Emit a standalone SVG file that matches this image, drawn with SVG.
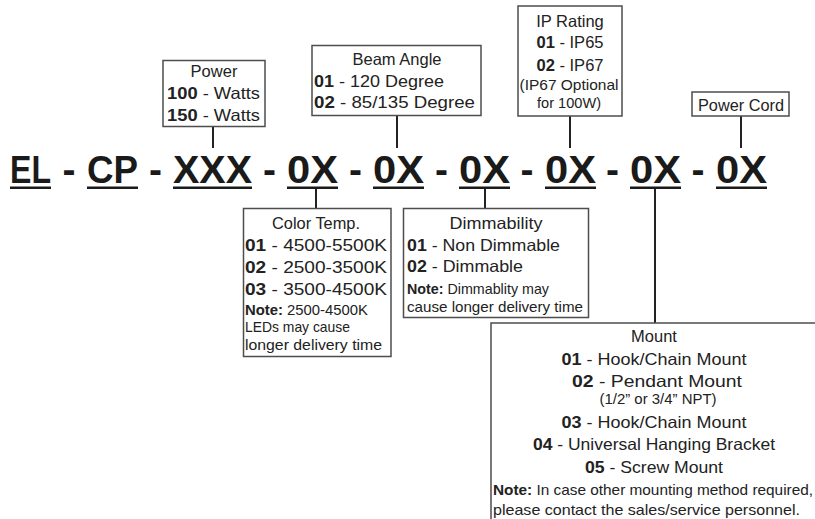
<svg xmlns="http://www.w3.org/2000/svg" width="815" height="519" viewBox="0 0 815 519">
<style>
.t{font-family:"Liberation Sans",Arial,sans-serif;font-size:16.5px;fill:#222}
.s{font-size:14.5px}
.m{text-anchor:middle}
.b{font-weight:bold}
.code{font-family:"Liberation Sans",Arial,sans-serif;font-weight:bold;font-size:39px;fill:#1a1a1a}
.box{fill:#fff;stroke:#4d4d4d;stroke-width:1.5}
.ul{fill:#1a1a1a}
#connectors line{stroke:#222;stroke-width:2}
</style>
<rect width="815" height="519" fill="#fff"/>
<g id="connectors">
<line x1="213" y1="126" x2="213" y2="148"/>
<line x1="397" y1="115" x2="397" y2="148"/>
<line x1="570" y1="116" x2="570" y2="148"/>
<line x1="741" y1="116" x2="741" y2="148"/>
<line x1="316" y1="189" x2="316" y2="209"/>
<line x1="485" y1="189" x2="485" y2="209"/>
<line x1="655" y1="189" x2="655" y2="323"/>
</g>
<g id="code">
<text class="code" x="10" y="183" textLength="41" lengthAdjust="spacingAndGlyphs">EL</text>
<text class="code m" x="69" y="183">-</text>
<text class="code" x="87" y="183" textLength="51" lengthAdjust="spacingAndGlyphs">CP</text>
<text class="code m" x="155.5" y="183">-</text>
<text class="code" x="173" y="183" textLength="79" lengthAdjust="spacingAndGlyphs">XXX</text>
<text class="code m" x="269.5" y="183">-</text>
<text class="code" x="287" y="183" textLength="51" lengthAdjust="spacingAndGlyphs">0X</text>
<text class="code m" x="355.5" y="183">-</text>
<text class="code" x="373" y="183" textLength="51" lengthAdjust="spacingAndGlyphs">0X</text>
<text class="code m" x="441.5" y="183">-</text>
<text class="code" x="459" y="183" textLength="51" lengthAdjust="spacingAndGlyphs">0X</text>
<text class="code m" x="527" y="183">-</text>
<text class="code" x="545" y="183" textLength="51" lengthAdjust="spacingAndGlyphs">0X</text>
<text class="code m" x="612.5" y="183">-</text>
<text class="code" x="630" y="183" textLength="51" lengthAdjust="spacingAndGlyphs">0X</text>
<text class="code m" x="698" y="183">-</text>
<text class="code" x="716" y="183" textLength="51" lengthAdjust="spacingAndGlyphs">0X</text>
<rect class="ul" x="10" y="186.5" width="41" height="2.5"/>
<rect class="ul" x="87" y="186.5" width="51" height="2.5"/>
<rect class="ul" x="173" y="186.5" width="79" height="2.5"/>
<rect class="ul" x="287" y="186.5" width="51" height="2.5"/>
<rect class="ul" x="373" y="186.5" width="51" height="2.5"/>
<rect class="ul" x="459" y="186.5" width="51" height="2.5"/>
<rect class="ul" x="545" y="186.5" width="51" height="2.5"/>
<rect class="ul" x="630" y="186.5" width="51" height="2.5"/>
<rect class="ul" x="716" y="186.5" width="51" height="2.5"/>
</g>
<g id="power">
<rect class="box" x="163" y="60.5" width="102" height="66"/>
<text class="t m" x="214" y="77">Power</text>
<text class="t" x="167" y="99" textLength="93" lengthAdjust="spacingAndGlyphs"><tspan class="b">100</tspan> - Watts</text>
<text class="t" x="167" y="121" textLength="93" lengthAdjust="spacingAndGlyphs"><tspan class="b">150</tspan> - Watts</text>
</g>
<g id="beam-angle">
<rect class="box" x="312" y="45.5" width="169" height="70"/>
<text class="t m" x="397" y="65">Beam Angle</text>
<text class="t" x="314" y="87" textLength="130" lengthAdjust="spacingAndGlyphs"><tspan class="b">01</tspan> - 120 Degree</text>
<text class="t" x="314" y="108" textLength="161" lengthAdjust="spacingAndGlyphs"><tspan class="b">02</tspan> - 85/135 Degree</text>
</g>
<g id="ip-rating">
<rect class="box" x="518" y="6" width="104" height="110"/>
<text class="t m" x="570" y="27">IP Rating</text>
<text class="t m" x="570" y="48" textLength="67" lengthAdjust="spacingAndGlyphs"><tspan class="b">01</tspan> - IP65</text>
<text class="t m" x="570" y="71" textLength="67" lengthAdjust="spacingAndGlyphs"><tspan class="b">02</tspan> - IP67</text>
<text class="t s m" x="569" y="90" textLength="99" lengthAdjust="spacingAndGlyphs">(IP67 Optional</text>
<text class="t s m" x="569" y="108" textLength="64" lengthAdjust="spacingAndGlyphs">for 100W)</text>
</g>
<g id="power-cord">
<rect class="box" x="692" y="92" width="97" height="24"/>
<text class="t m" x="741" y="111" textLength="86" lengthAdjust="spacingAndGlyphs">Power Cord</text>
</g>
<g id="color-temp">
<rect class="box" x="243.5" y="208.5" width="147.5" height="148"/>
<text class="t m" x="316" y="229" textLength="88" lengthAdjust="spacingAndGlyphs">Color Temp.</text>
<text class="t" x="245" y="251" textLength="142" lengthAdjust="spacingAndGlyphs"><tspan class="b">01</tspan> - 4500-5500K</text>
<text class="t" x="245" y="273" textLength="142" lengthAdjust="spacingAndGlyphs"><tspan class="b">02</tspan> - 2500-3500K</text>
<text class="t" x="245" y="295" textLength="142" lengthAdjust="spacingAndGlyphs"><tspan class="b">03</tspan> - 3500-4500K</text>
<text class="t s" x="245" y="315" textLength="123" lengthAdjust="spacingAndGlyphs"><tspan class="b">Note:</tspan> 2500-4500K</text>
<text class="t s" x="245" y="332" textLength="105" lengthAdjust="spacingAndGlyphs">LEDs may cause</text>
<text class="t s" x="245" y="350" textLength="137" lengthAdjust="spacingAndGlyphs">longer delivery time</text>
</g>
<g id="dimmability">
<rect class="box" x="403.5" y="208.5" width="185" height="109"/>
<text class="t m" x="496" y="229" textLength="93" lengthAdjust="spacingAndGlyphs">Dimmability</text>
<text class="t" x="407" y="251" textLength="153" lengthAdjust="spacingAndGlyphs"><tspan class="b">01</tspan> - Non Dimmable</text>
<text class="t" x="407" y="272" textLength="116" lengthAdjust="spacingAndGlyphs"><tspan class="b">02</tspan> - Dimmable</text>
<text class="t s" x="407" y="294" textLength="142" lengthAdjust="spacingAndGlyphs"><tspan class="b">Note:</tspan> Dimmablity may</text>
<text class="t s" x="407" y="312" textLength="176" lengthAdjust="spacingAndGlyphs">cause longer delivery time</text>
</g>
<g id="mount">
<rect class="box" x="491" y="323" width="340" height="220"/>
<text class="t m" x="654" y="342">Mount</text>
<text class="t m" x="654" y="365" textLength="185" lengthAdjust="spacingAndGlyphs"><tspan class="b">01</tspan> - Hook/Chain Mount</text>
<text class="t m" x="657" y="387" textLength="170" lengthAdjust="spacingAndGlyphs"><tspan class="b">02</tspan> - Pendant Mount</text>
<text class="t s m" x="658" y="404" textLength="117" lengthAdjust="spacingAndGlyphs">(1/2” or 3/4” NPT)</text>
<text class="t m" x="654" y="428" textLength="185" lengthAdjust="spacingAndGlyphs"><tspan class="b">03</tspan> - Hook/Chain Mount</text>
<text class="t m" x="654" y="450" textLength="242" lengthAdjust="spacingAndGlyphs"><tspan class="b">04</tspan> - Universal Hanging Bracket</text>
<text class="t m" x="654" y="473" textLength="138" lengthAdjust="spacingAndGlyphs"><tspan class="b">05</tspan> - Screw Mount</text>
<text class="t s" x="493" y="495" textLength="320" lengthAdjust="spacingAndGlyphs"><tspan class="b">Note:</tspan> In case other mounting method required,</text>
<text class="t s" x="493" y="515" textLength="307" lengthAdjust="spacingAndGlyphs">please contact the sales/service personnel.</text>
</g>
</svg>
